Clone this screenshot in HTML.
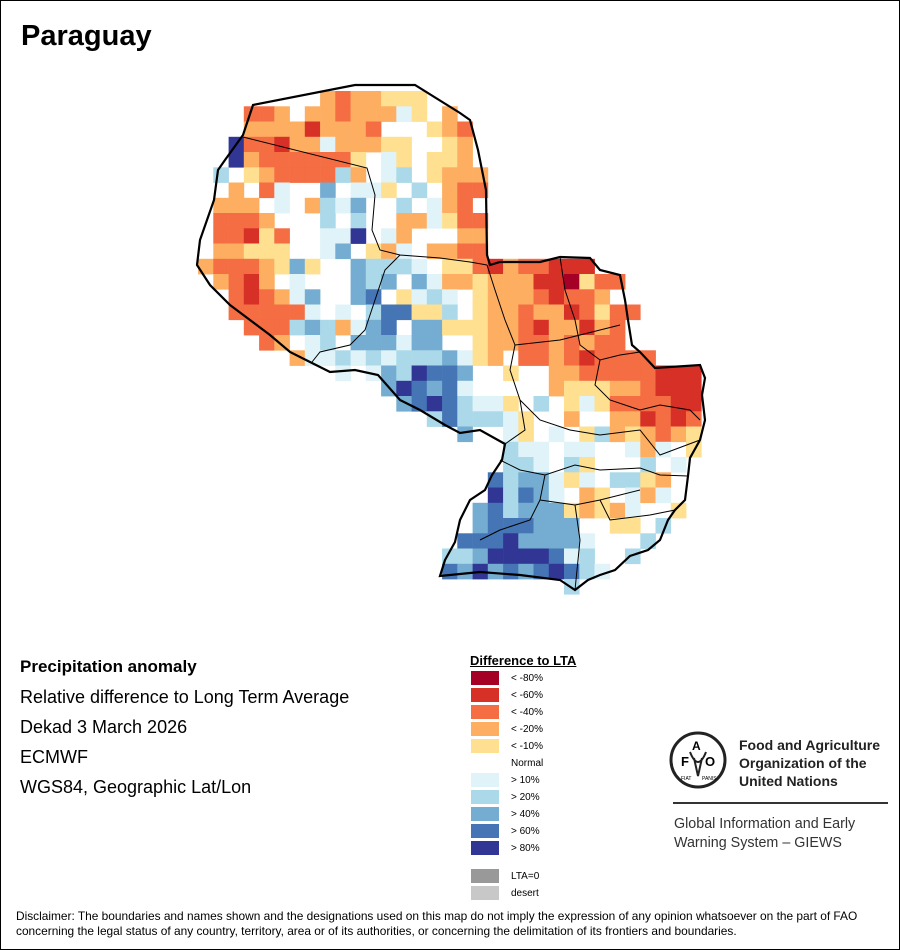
<!DOCTYPE html>
<html><head><meta charset="utf-8">
<style>
body{margin:0;background:#fff;}
#c{position:relative;width:898px;height:948px;border:1px solid #000;overflow:hidden;font-family:"Liberation Sans",sans-serif;}
.t{position:absolute;white-space:nowrap;color:#000;}
</style></head>
<body><div id="c">
<div class="t" style="left:20px;top:19px;font-size:29px;font-weight:bold;">Paraguay</div>
<svg id="map" width="900" height="640" style="position:absolute;left:-1px;top:-1px"></svg>
<div class="t" style="left:19px;top:656px;font-size:17px;font-weight:bold;">Precipitation anomaly</div>
<div class="t" style="left:19px;top:686px;font-size:18px;">Relative difference to Long Term Average</div>
<div class="t" style="left:19px;top:716px;font-size:18px;">Dekad 3 March 2026</div>
<div class="t" style="left:19px;top:746px;font-size:18px;">ECMWF</div>
<div class="t" style="left:19px;top:776px;font-size:18px;">WGS84, Geographic Lat/Lon</div>

<div class="t" style="left:469px;top:652px;font-size:13px;font-weight:bold;text-decoration:underline;">Difference to LTA</div>
<div id="leg"></div>

<svg width="60" height="60" style="position:absolute;left:667px;top:729px" viewBox="0 0 60 60">
<circle cx="30" cy="30" r="27" fill="none" stroke="#222" stroke-width="3"/>
<text x="13" y="36" font-family="Liberation Sans" font-weight="bold" font-size="13">F</text>
<text x="24" y="20" font-family="Liberation Sans" font-weight="bold" font-size="12">A</text>
<text x="37" y="36" font-family="Liberation Sans" font-weight="bold" font-size="13">O</text>
<path d="M22 22 Q30 42 38 22 M26 28 L30 46 L34 28" fill="none" stroke="#222" stroke-width="2"/>
<text x="13" y="50" font-family="Liberation Sans" font-size="5">FIAT</text>
<text x="34" y="50" font-family="Liberation Sans" font-size="5">PANIS</text>
</svg>
<div class="t" style="left:738px;top:735px;font-size:14px;font-weight:bold;line-height:18px;color:#222;">Food and Agriculture<br>Organization of the<br>United Nations</div>
<div style="position:absolute;left:672px;top:801px;width:215px;height:2px;background:#333;"></div>
<div class="t" style="left:673px;top:814px;font-size:14.3px;line-height:19px;color:#333;">Global Information and Early<br>Warning System – GIEWS</div>

<div class="t" style="left:15px;top:908px;font-size:11.9px;line-height:15px;">Disclaimer: The boundaries and names shown and the designations used on this map do not imply the expression of any opinion whatsoever on the part of FAO<br>concerning the legal status of any country, territory, area or of its authorities, or concerning the delimitation of its frontiers and boundaries.</div>
</div>
<script>
var C={R:"#a50026",r:"#d73027",o:"#f46d43",a:"#fdae61",y:"#fee090",l:"#e0f3f8",b:"#abd9e9",m:"#74add1",d:"#4575b4",D:"#313695"};
var rows=[
"        aoaayyy",
"   ooa.aaoaaaly.a",
"   aaaaraaao...yao",
"  Dooraalaaayy..ya",
"  Daooooooy.ly.yya",
" b.yaooooba.lb.yaaa",
" .a.ol..m.lly.b.aoo",
" aaa.l.ablm..b.lao.",
" oooa...b.b..aalyoo",
" ooryo..llD.la...aa",
" aayyy..lm.yal.aaoo",
"aoooaymy..mbbbl.yyoraoorrr",
" aora.l...mbm.mlaayaaarrRyoo",
"  oroalm..md.ylbl.yaaaorooa.",
"  oooool.l.bddyyb.yaaoaaroyoo",
"   ooobmbalmd.mmyyyaaoraarao",
"    oa.lb.mmmlmm..yaaooaoaoo",
"      allblblbbbmlya.ooaoroooo",
"       ..l.lmbDddm..y..aaooooorrr",
"           .mDdmdl.....ayyyaaorrr",
"             mdDdblly.b.ylyoooorr",
"               bdbbbly..a..aaroro",
"                 m..ly.l.ybayaoay",
"                   .bll.ll..lal.y",
"                    bbl.by...b.l",
"                   dbmmlyl.bbya..",
"                   Dbdml.ay.lal.",
"                  mdbmmmyayal..y",
"                  mdddmmm..yy.b",
"                 dddDmmmml...b",
"                bbmDDDDdlb..b",
"                dmDmdmdDdbl",
"                        b"];
var s='';
for(var r=0;r<rows.length;r++){for(var i=0;i<rows[r].length;i++){var ch=rows[r][i];if(C[ch]){var c=i-1;s+='<rect x="'+(213.3+15.25*c).toFixed(1)+'" y="'+(91+15.25*r).toFixed(1)+'" width="15.6" height="15.6" fill="'+C[ch]+'"/>';}}}
var outer="M253,105 L355,85 L415,85 L460,113 L470,120 L478,150 L486,190 L487,255 L490,265 L500,262 L540,262 L560,257 L590,258 L600,270 L620,275 L625,300 L628,320 L632,345 L640,352 L655,368 L700,365 L705,378 L702,395 L705,420 L700,440 L690,458 L688,476 L685,500 L675,510 L668,520 L660,540 L648,550 L630,556 L615,570 L600,575 L588,580 L575,590 L560,580 L520,575 L480,572 L440,576 L445,560 L455,542 L460,520 L470,500 L485,490 L492,475 L502,460 L505,444 L480,430 L460,433 L445,425 L420,410 L400,400 L378,375 L355,370 L330,372 L310,362 L290,352 L270,335 L250,320 L230,305 L210,285 L197,265 L200,240 L214,200 L218,170 L225,160 L243,135 Z";
var inner="M243,137 L367,168 L375,195 L372,230 L380,250 L400,255 L440,258 L470,262 L487,265 M400,255 L385,270 L375,300 L365,330 L350,345 L320,352 L312,362 M487,265 L495,290 L505,320 L515,345 L510,370 L520,400 L525,430 L505,444 M515,345 L560,340 L600,330 L620,325 M560,257 L565,290 L575,320 L580,345 L600,360 L620,355 L640,352 M600,360 L595,385 L610,400 L640,410 L660,405 L690,410 L700,420 M520,400 L540,420 L570,430 L600,435 L640,430 L660,455 L700,440 M500,460 L520,470 L545,475 L575,465 L600,470 L640,468 L660,475 L688,476 M545,475 L540,500 L530,520 L500,530 L480,540 M540,500 L575,505 L600,500 L640,490 M575,505 L580,540 L575,590 M600,500 L610,520 L650,515 L675,510";
s+='<path d="'+inner+'" fill="none" stroke="#000" stroke-width="1"/>';
s+='<path d="'+outer+'" fill="none" stroke="#000" stroke-width="2.2"/>';
document.getElementById('map').innerHTML=s;
var L=[["#a50026","< -80%",671],["#d73027","< -60%",688],["#f46d43","< -40%",705],["#fdae61","< -20%",722],["#fee090","< -10%",739],[null,"Normal",756],["#e0f3f8","> 10%",773],["#abd9e9","> 20%",790],["#74add1","> 40%",807],["#4575b4","> 60%",824],["#313695","> 80%",841],["#999999","LTA=0",869],["#c8c8c8","desert",886]];
var h='';
L.forEach(function(e){if(e[0])h+='<div style="position:absolute;left:470px;top:'+(e[2]-1)+'px;width:28px;height:14px;background:'+e[0]+'"></div>';h+='<div class="t" style="left:510px;top:'+(e[2]+1)+'px;font-size:10px;">'+e[1].replace('<','&lt;').replace('>','&gt;')+'</div>';});
document.getElementById('leg').innerHTML=h;
</script>
</body></html>
